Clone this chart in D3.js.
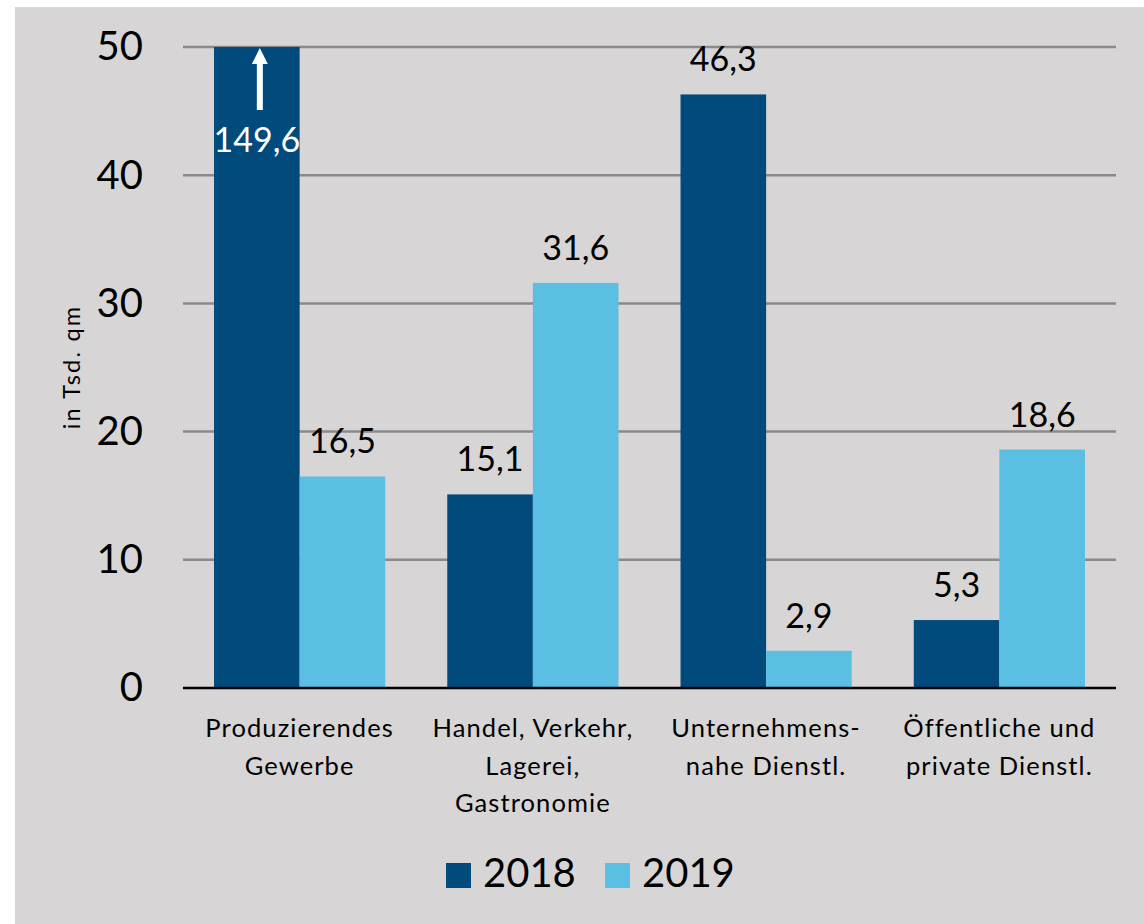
<!DOCTYPE html>
<html>
<head>
<meta charset="utf-8">
<script src="https://cdn.jsdelivr.net/npm/d3@7"></script>
<style>
  html, body { margin: 0; padding: 0; background: #ffffff; }
  svg { display: block; }
  text { font-family: Lato, "Open Sans", sans-serif; }
</style>
</head>
<body>
<svg id="chart" width="1144" height="924"></svg>
<script>
const categories = [
  ["Produzierendes", "Gewerbe"],
  ["Handel, Verkehr,", "Lagerei,", "Gastronomie"],
  ["Unternehmens-", "nahe Dienstl."],
  ["Öffentliche und", "private Dienstl."]
];
const series = ["2018", "2019"];
const values2018 = [149.6, 15.1, 46.3, 5.3];
const values2019 = [16.5, 31.6, 2.9, 18.6];
const yTicks = [0, 10, 20, 30, 40, 50];
const yTitle = "in Tsd. qm";
const colors = ["#004a7c", "#5bbfe4"];

(function () {
const svg = d3.select("#chart");
const W = 1144, H = 924;
svg.append("rect").attr("x", 15).attr("y", 7).attr("width", W - 15).attr("height", H - 7).attr("fill", "#d7d5d6");

const pLeft = 183, pRight = 1116, pTop = 47, pBottom = 688;
const catIdx = categories.map((c, i) => i);
const x0 = d3.scaleBand().domain(catIdx).range([pLeft, pRight]).paddingInner(0.266).paddingOuter(0.133);
const x1 = d3.scaleBand().domain(series).range([0, x0.bandwidth()]);
const y = d3.scaleLinear().domain([0, 50]).range([pBottom, pTop]).clamp(true);

// gridlines
svg.append("g").selectAll("line").data(yTicks.filter(t => t > 0)).join("line")
  .attr("x1", pLeft).attr("x2", pRight)
  .attr("y1", d => y(d)).attr("y2", d => y(d))
  .attr("stroke", "#8a8a8a").attr("stroke-width", 2.5);

// y axis labels
const yAxis = d3.axisLeft(y).tickValues(yTicks).tickSize(0).tickPadding(0).tickFormat(d3.format("d"));
const gy = svg.append("g").attr("transform", `translate(${143},0)`).call(yAxis);
gy.select(".domain").remove();
gy.selectAll("text").attr("font-size", 40).attr("fill", "#000").attr("font-family", "Lato, sans-serif");

// y title
svg.append("text").attr("transform", `translate(80,367) rotate(-90)`)
  .attr("text-anchor", "middle").attr("font-size", 23.5).attr("letter-spacing", 2.2)
  .attr("fill", "#000").text(yTitle);

// bars
const data = catIdx.map(i => ({ i, vals: [values2018[i], values2019[i]] }));
const groups = svg.append("g").selectAll("g").data(data).join("g")
  .attr("transform", d => `translate(${x0(d.i)},0)`);
groups.selectAll("rect").data(d => d.vals.map((v, k) => ({ v, k }))).join("rect")
  .attr("x", d => x1(series[d.k]))
  .attr("width", x1.bandwidth())
  .attr("y", d => y(d.v))
  .attr("height", d => y(0) - y(d.v))
  .attr("fill", d => colors[d.k]);

const fmt = v => d3.format(".1f")(v).replace(".", ",");
groups.selectAll("text.val").data(d => d.vals.map((v, k) => ({ v, k }))).join("text")
  .attr("class", "val")
  .attr("x", d => x1(series[d.k]) + x1.bandwidth() / 2)
  .attr("y", d => d.v > 50 ? y(50) + 105 : y(d.v) - 23)
  .attr("text-anchor", "middle")
  .attr("font-size", 34)
  .attr("fill", d => d.v > 50 ? "#ffffff" : "#000000")
  .text(d => fmt(d.v));

// arrow for truncated bar
data.forEach(d => d.vals.forEach((v, k) => {
  if (v > 50) {
    const cx = x0(d.i) + x1(series[k]) + x1.bandwidth() / 2 + 3;
    const ty = y(50) + 1;
    svg.append("rect").attr("x", cx - 3).attr("y", ty + 14).attr("width", 6).attr("height", 48).attr("fill", "#ffffff");
    svg.append("path").attr("d", `M${cx},${ty} L${cx - 8},${ty + 16} L${cx + 8},${ty + 16} Z`).attr("fill", "#ffffff");
  }
}));

// zero axis line
svg.append("line").attr("x1", pLeft).attr("x2", pRight).attr("y1", y(0)).attr("y2", y(0))
  .attr("stroke", "#000").attr("stroke-width", 2.5);

// category labels
const xg = svg.append("g").selectAll("text").data(data).join("text")
  .attr("x", d => x0(d.i) + x0.bandwidth() / 2)
  .attr("y", 737)
  .attr("text-anchor", "middle")
  .attr("font-size", 25.5)
  .attr("letter-spacing", 1.1)
  .attr("fill", "#000");
xg.selectAll("tspan").data(d => categories[d.i]).join("tspan")
  .attr("x", function() { return d3.select(this.parentNode).attr("x"); })
  .attr("dy", (d, j) => j === 0 ? 0 : 37.5)
  .text(d => d);

// legend
const legX = [446, 605];
series.forEach((s, k) => {
  svg.append("rect").attr("x", legX[k]).attr("y", 863).attr("width", 25).attr("height", 25).attr("fill", colors[k]);
  svg.append("text").attr("x", legX[k] + 37).attr("y", 887).attr("font-size", 40).attr("fill", "#000").text(s);
});
})();
</script>
</body>
</html>
